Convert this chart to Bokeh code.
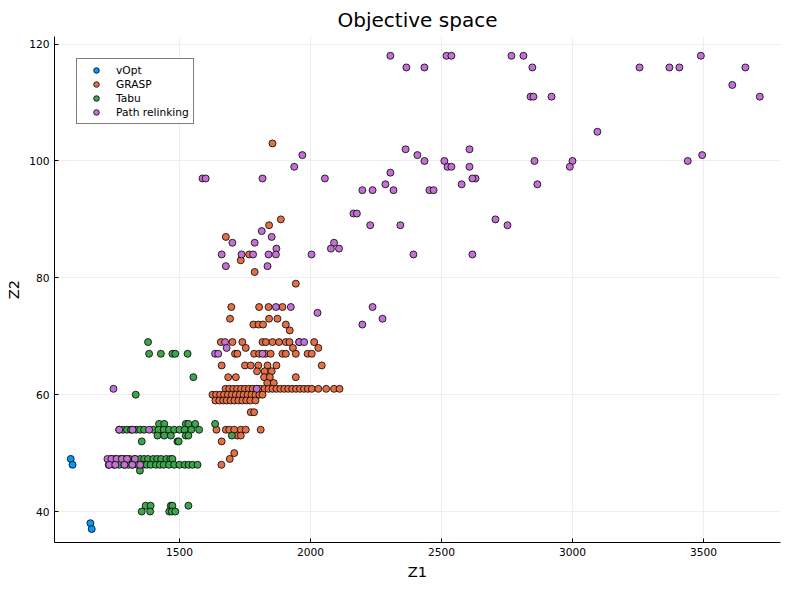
from bokeh.plotting import figure
from bokeh.models import Range1d, Legend, LegendItem
from bokeh.embed import file_html
from bokeh.resources import INLINE

# vOpt
vopt_z1 = [1085, 1092, 1160, 1165]
vopt_z2 = [49, 48, 38, 37]

# Tabu
tabu_z1 = [1380, 1384, 1429, 1473, 1484, 1531, 1553, 1333,
           1422, 1442, 1524, 1534, 1560, 1636,
           1270, 1285, 1300, 1315, 1335, 1350, 1365, 1400, 1420, 1440, 1460, 1480, 1500, 1520, 1545, 1575,
           1416, 1442, 1467, 1524, 1534, 1700, 1356, 1492, 1497,
           1240, 1255, 1275, 1290, 1310, 1330, 1350, 1365, 1380, 1400, 1415, 1430, 1450, 1465, 1473,
           1230, 1250, 1270, 1290, 1305, 1320, 1340, 1360, 1375, 1390, 1410, 1425, 1440, 1460, 1480, 1500, 1520, 1535, 1550, 1569,
           1349, 1371, 1390, 1467, 1473, 1534, 1356, 1388, 1461, 1471, 1484]
tabu_z2 = [69, 67, 67, 67, 67, 67, 63, 60,
           55, 55, 55, 55, 55, 55,
           54, 54, 54, 54, 54, 54, 54, 54, 54, 54, 54, 54, 54, 54, 54, 54,
           53, 53, 53, 53, 53, 53, 52, 52, 52,
           49, 49, 49, 49, 49, 49, 49, 49, 49, 49, 49, 49, 49, 49, 49,
           48, 48, 48, 48, 48, 48, 48, 48, 48, 48, 48, 48, 48, 48, 48, 48, 48, 48, 48, 48,
           47, 41, 41, 41, 41, 41, 40, 40, 40, 40, 40]

# GRASP
grasp_z1 = [1855, 1887, 1842, 1677, 1766, 1734, 1787, 1944,
            1698, 1804, 1840, 1893, 1693, 1842, 1874, 1782, 1802, 1819, 1906, 1921,
            1658, 1702, 1740, 1817, 1830, 1855, 1880, 1906, 1920, 1957, 2014,
            1753, 1933, 2030,
            1712, 1721, 1785, 1804, 1829, 1848, 1893, 1906, 1944, 1989, 2005,
            1661, 1750, 1772, 1801, 1836, 1870, 2043, 1796, 1825, 1852,
            1686, 1715, 1823, 1845, 1944, 1835, 1860,
            1676, 1690, 1705, 1720, 1735, 1750, 1765, 1780, 1795, 1810, 1825, 1840, 1855, 1870, 1885,
            1900, 1915, 1930, 1945, 1960, 1975, 1990, 2005, 2030, 2060, 2090, 2111,
            1626, 1640, 1655, 1670, 1685, 1700, 1715, 1730, 1745, 1760, 1775, 1790, 1805, 1817,
            1637, 1652, 1667, 1680, 1695, 1710, 1725, 1740, 1755, 1770, 1790,
            1772, 1785,
            1641, 1677, 1690, 1709, 1734, 1753, 1810, 1721, 1734, 1661, 1709, 1692, 1660]
grasp_z2 = [103, 90, 89, 87, 84, 83, 81, 79,
            75, 75, 75, 75, 73, 73, 73, 72, 72, 72, 72, 71,
            69, 69, 69, 69, 69, 69, 69, 69, 69, 69, 69,
            68, 68, 68,
            67, 67, 67, 67, 67, 67, 67, 67, 67, 67, 67,
            65, 65, 65, 65, 65, 65, 65, 64, 64, 64,
            63, 63, 63, 63, 63, 62, 62,
            61, 61, 61, 61, 61, 61, 61, 61, 61, 61, 61, 61, 61, 61, 61,
            61, 61, 61, 61, 61, 61, 61, 61, 61, 61, 61, 61,
            60, 60, 60, 60, 60, 60, 60, 60, 60, 60, 60, 60, 60, 60,
            59, 59, 59, 59, 59, 59, 59, 59, 59, 59, 59,
            57, 57,
            54, 54, 54, 54, 54, 54, 54, 53, 53, 52, 50, 49, 48]

# Path relinking
pr_z1 = [2305, 2366, 2435, 2519, 2538, 2767, 2813, 2847, 2840, 2851, 2920,
         3256, 3370, 3408, 3490, 3660, 3610, 3715, 3095,
         3000, 2990, 2855, 2866, 2630, 2607, 2607, 2618, 2618, 2706, 2752, 2577,
         2363, 2408, 2435, 2454, 2470, 2511, 2523, 2538, 2286, 2305, 2317, 2343, 2393, 2275,
         3440, 3495, 2164, 2198, 2237,
         1588, 1600, 1817, 2055, 1969, 1938, 2177, 2228, 1814, 1852, 1702, 1787, 1870,
         1661, 1737, 1781, 1840, 1868, 2004, 2090, 2078, 2109, 1677, 1836,
         1868, 1925, 2027, 2198, 2237, 1674, 1680, 1636, 1817, 1957, 1976, 1795, 1648, 1248,
         1270, 1321, 1384,
         1225, 1240, 1260, 1280, 1300, 1330,
         1232, 1255, 1290, 1320, 1350]
pr_z2 = [118, 116, 116, 118, 118, 118, 118, 116, 111, 111, 111,
         116, 116, 116, 118, 116, 113, 111, 105,
         100, 99, 100, 96, 97, 102, 99, 97, 84, 90, 89, 96,
         102, 101, 100, 95, 95, 100, 99, 99, 96, 98, 95, 89, 84, 73,
         100, 101, 91, 95, 95,
         97, 97, 97, 97, 101, 99, 91, 89, 88, 87, 86, 86, 85,
         84, 84, 84, 84, 84, 84, 86, 85, 85, 82, 82,
         75, 75, 74, 72, 75, 69, 68, 67, 67, 69, 69, 61, 67, 61,
         54, 54, 54,
         49, 49, 49, 49, 49, 49,
         48, 48, 48, 48, 48]

series = [("vOpt", vopt_z1, vopt_z2, "#009AFA"),
          ("GRASP", grasp_z1, grasp_z2, "#E36F47"),
          ("Tabu", tabu_z1, tabu_z2, "#3EA44E"),
          ("Path relinking", pr_z1, pr_z2, "#C371D2")]

p = figure(width=784, height=584, output_backend="svg", toolbar_location=None,
           x_range=Range1d(1023, 3794), y_range=Range1d(34.7, 121.3),
           title="Objective space", min_border_left=54, min_border_right=4,
           min_border_top=20, min_border_bottom=42)
p.title.align = "center"
p.title.text_font = "DejaVu Sans"
p.title.text_font_size = "15pt"
p.title.text_font_style = "normal"
p.title.text_color = "black"
p.title.offset = -10
p.outline_line_color = None

items = []
for name, xs, ys, col in series:
    r = p.scatter(xs, ys, size=7, fill_color=col, line_color="black", line_width=0.8)
    items.append(LegendItem(label=name, renderers=[r]))

legend = Legend(items=items, location="top_left", border_line_color="black",
                label_text_font_size="8pt", label_text_font="DejaVu Sans",
                label_text_color="black", spacing=-6, padding=4,
                glyph_height=14, glyph_width=30, label_height=12, margin=22)
p.add_layout(legend, "center")

p.xaxis.ticker = [1500, 2000, 2500, 3000, 3500]
p.yaxis.ticker = [40, 60, 80, 100, 120]
p.xaxis.axis_label = "Z1"
p.yaxis.axis_label = "Z2"
for ax in (p.xaxis, p.yaxis):
    ax.axis_label_text_font = "DejaVu Sans"
    ax.axis_label_text_font_style = "normal"
    ax.axis_label_text_font_size = "11pt"
    ax.axis_label_text_color = "black"
    ax.major_label_text_font = "DejaVu Sans"
    ax.major_label_text_font_size = "8pt"
    ax.major_label_text_color = "black"
    ax.minor_tick_line_color = None
    ax.major_tick_in = 4
    ax.major_tick_out = 0
    ax.axis_label_standoff = 4
p.grid.grid_line_color = "#eeeeee"

open("out.html", "w").write(file_html(p, INLINE))
